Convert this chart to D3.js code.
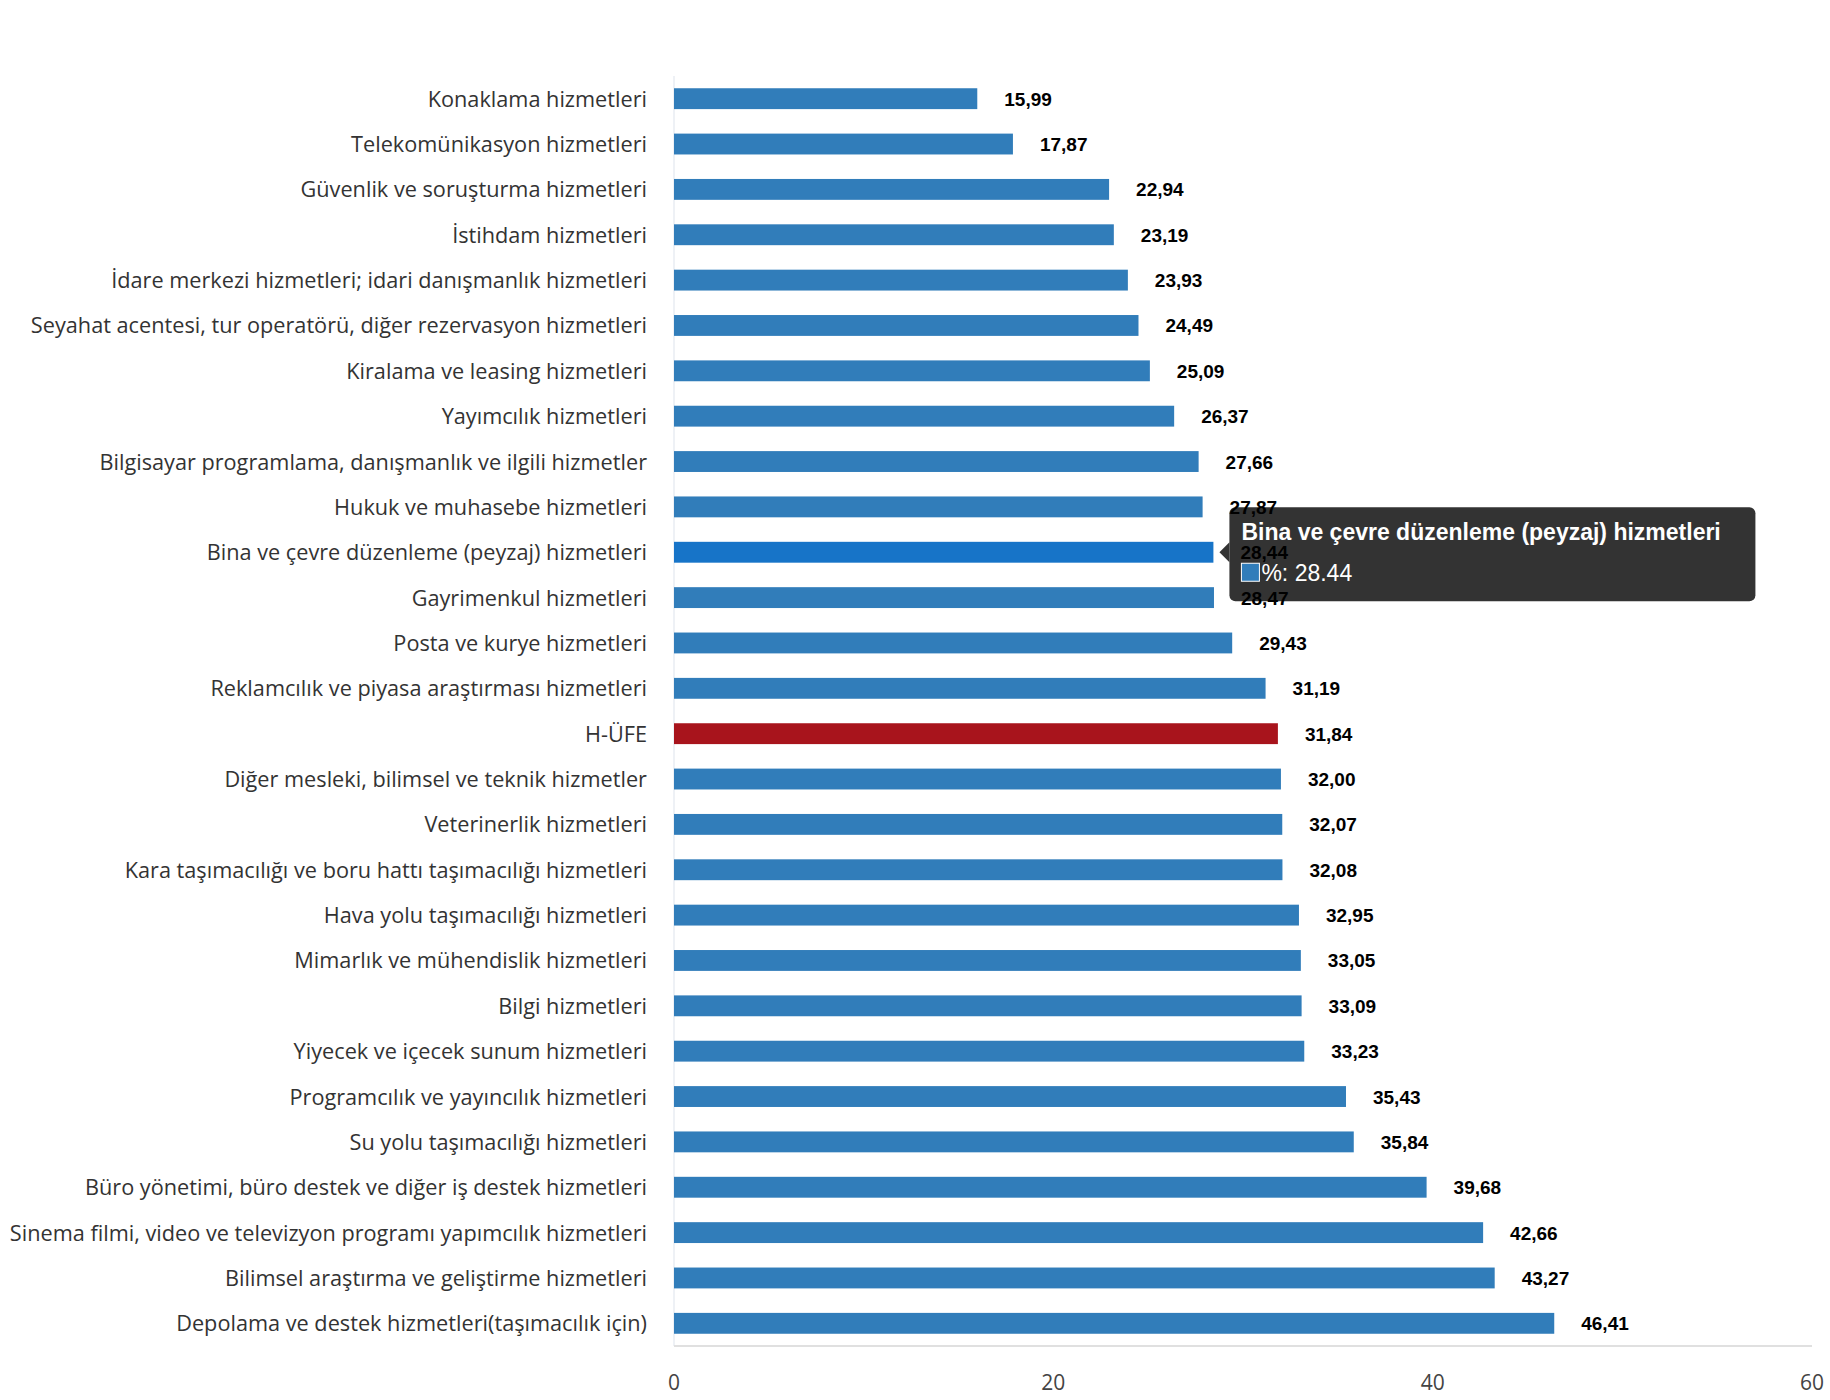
<!DOCTYPE html>
<html><head><meta charset="utf-8">
<script src="https://cdn.jsdelivr.net/npm/d3@7"></script>
<style>body{margin:0;background:#fff}</style>
</head><body>
<svg id="c" width="1830" height="1400"></svg>
<script>
'use strict'
const categories = ['Konaklama hizmetleri','Telekomünikasyon hizmetleri','Güvenlik ve soruşturma hizmetleri','İstihdam hizmetleri','İdare merkezi hizmetleri; idari danışmanlık hizmetleri','Seyahat acentesi, tur operatörü, diğer rezervasyon hizmetleri','Kiralama ve leasing hizmetleri','Yayımcılık hizmetleri','Bilgisayar programlama, danışmanlık ve ilgili hizmetler','Hukuk ve muhasebe hizmetleri','Bina ve çevre düzenleme (peyzaj) hizmetleri','Gayrimenkul hizmetleri','Posta ve kurye hizmetleri','Reklamcılık ve piyasa araştırması hizmetleri','H-ÜFE','Diğer mesleki, bilimsel ve teknik hizmetler','Veterinerlik hizmetleri','Kara taşımacılığı ve boru hattı taşımacılığı hizmetleri','Hava yolu taşımacılığı hizmetleri','Mimarlık ve mühendislik hizmetleri','Bilgi hizmetleri','Yiyecek ve içecek sunum hizmetleri','Programcılık ve yayıncılık hizmetleri','Su yolu taşımacılığı hizmetleri','Büro yönetimi, büro destek ve diğer iş destek hizmetleri','Sinema filmi, video ve televizyon programı yapımcılık hizmetleri','Bilimsel araştırma ve geliştirme hizmetleri','Depolama ve destek hizmetleri(taşımacılık için)']
const values = [15.99,17.87,22.94,23.19,23.93,24.49,25.09,26.37,27.66,27.87,28.44,28.47,29.43,31.19,31.84,32.00,32.07,32.08,32.95,33.05,33.09,33.23,35.43,35.84,39.68,42.66,43.27,46.41]
const xTicks = [0, 20, 40, 60]
const highlight = 'H-ÜFE'
const hovered = 'Bina ve çevre düzenleme (peyzaj) hizmetleri'

const svg = d3.select('#c')
const x = d3.scaleLinear().domain([0, 60]).range([674, 1812])
const y = d3.scaleBand().domain(categories).range([76, 1346]).paddingInner(0.54).paddingOuter(0.27)

svg.append('line').attr('x1', 674).attr('x2', 674).attr('y1', 76).attr('y2', 1346).attr('stroke', '#dde3ec')
svg.append('line').attr('x1', 674).attr('x2', 1812).attr('y1', 1346).attr('y2', 1346).attr('stroke', '#e0e0e0').attr('stroke-width', 2)

svg.selectAll('.tick').data(xTicks).enter().append('text')
  .attr('x', d => x(d)).attr('y', 1390).attr('text-anchor', 'middle')
  .style('font', '21px "Open Sans", sans-serif').attr('fill', '#444').text(d => d)

const data = categories.map((c, i) => ({ name: c, v: values[i] }))
const g = svg.selectAll('.row').data(data).enter().append('g')

g.append('rect')
  .attr('x', x(0)).attr('y', d => y(d.name))
  .attr('width', d => x(d.v) - x(0)).attr('height', y.bandwidth())
  .attr('fill', d => d.name === highlight ? '#a8141c' : d.name === hovered ? '#1774c8' : '#317dba')

g.append('text')
  .attr('x', 647).attr('y', d => y(d.name) + y.bandwidth() / 2 + 8)
  .attr('text-anchor', 'end').attr('fill', '#333')
  .style('font', '21.7px "Open Sans", sans-serif').text(d => d.name)

// tooltip
const hv = data.find(d => d.name === hovered)
const ty = y(hovered) + y.bandwidth() / 2
const tt = svg.append('g').attr('transform', `translate(${x(hv.v) + 6},${ty})`)
tt.append('path').attr('d', 'M0,0 L10,-10 L10,10 Z').attr('fill', '#333')
tt.append('rect').attr('x', 10).attr('y', -45).attr('width', 526).attr('height', 94).attr('rx', 6).attr('fill', '#333')
tt.append('text').attr('x', 22).attr('y', -12).attr('fill', '#fff')
  .style('font', 'bold 23px "Liberation Sans", Arial, sans-serif').text(hovered)
tt.append('rect').attr('x', 22).attr('y', 11).attr('width', 18).attr('height', 18).attr('fill', '#317dba').attr('stroke', '#fff')
tt.append('text').attr('x', 42).attr('y', 29).attr('fill', '#fff')
  .style('font', '23px "Liberation Sans", Arial, sans-serif').text('%: ' + hv.v)

// value labels drawn above the tooltip, as in the reference
svg.selectAll('.val').data(data).enter().append('text')
  .attr('x', d => x(d.v) + 27).attr('y', d => y(d.name) + y.bandwidth() / 2 + 7)
  .attr('fill', '#000').style('font', 'bold 19px "Liberation Sans", Arial, sans-serif')
  .text(d => d.v.toFixed(2).replace('.', ','))
</script>
</body></html>
